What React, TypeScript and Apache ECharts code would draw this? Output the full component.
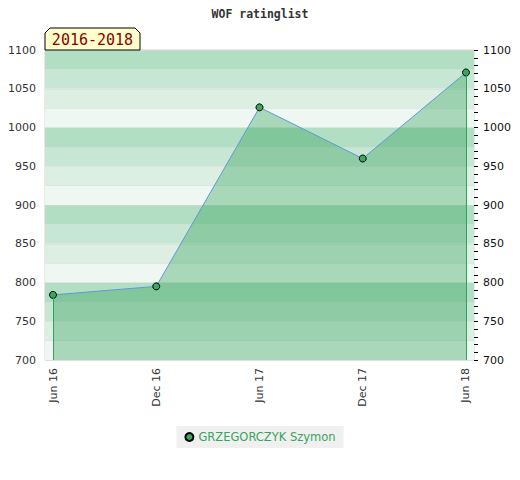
import React, { useEffect, useRef } from "react";
import * as echarts from "echarts";

const categories = ["Jun 16", "Dec 16", "Jun 17", "Dec 17", "Jun 18"];
const ratings = [784, 795, 1026, 960, 1071];
const seriesName = "GRZEGORCZYK Szymon";
const periodLabel = "2016-2018";
const titleText = "WOF ratinglist";
const yMin = 700;
const yMax = 1100;

export default function App() {
  const ref = useRef<HTMLDivElement>(null);
  useEffect(() => {
    document.body.style.margin = "0";
    if (!ref.current) return;
    const chart = echarts.init(ref.current, undefined, { renderer: "svg" });
    const data = ratings.map((v, i) => [i, v]);
    const last = ratings.length - 1;
    const labelFmt = (v: number) => (v % 50 === 0 ? String(v) : "");
    chart.setOption({
      animation: false,
      backgroundColor: "#ffffff",
      title: {
        text: titleText,
        left: "center",
        top: 3,
        textStyle: {
          fontFamily: "DejaVu Sans Mono",
          fontSize: 11.5,
          fontWeight: "bold",
          color: "#333",
        },
      },
      legend: {
        top: 426,
        left: "center",
        backgroundColor: "#f0f0f0",
        padding: [5, 8, 5, 8],
        itemWidth: 8,
        itemHeight: 8,
        itemGap: 8,
        textStyle: { color: "#3aa35f", fontFamily: "DejaVu Sans", fontSize: 11.5 },
        data: [{ name: seriesName, icon: "circle" }],
      },
      grid: {
        left: 45,
        right: 46,
        top: 50,
        bottom: 120,
        show: true,
        borderColor: "#d4d4d4",
        borderWidth: 1,
        backgroundColor: "transparent",
      },
      xAxis: {
        type: "value",
        min: -0.0775,
        max: last + 0.0775,
        axisLine: { show: false },
        axisTick: { show: false },
        splitLine: { show: false },
        axisLabel: {
          customValues: categories.map((_, i) => i),
          formatter: (v: number) => categories[Math.round(v)] ?? "",
          rotate: 90,
          margin: 8,
          color: "#333",
          fontFamily: "DejaVu Sans",
          fontSize: 11,
        },
      },
      yAxis: [
        {
          type: "value",
          min: yMin,
          max: yMax,
          interval: 25,
          position: "left",
          axisLine: { show: false },
          axisTick: { show: false },
          splitLine: {
            show: true,
            lineStyle: { color: "rgba(215,215,215,0.5)", width: 1 },
          },
          splitArea: {
            show: true,
            areaStyle: { color: ["#eff7f2", "#ddefe3", "#c8e6d4", "#b2dec3"] },
          },
          axisLabel: {
            formatter: labelFmt,
            color: "#333",
            fontFamily: "DejaVu Sans",
            fontSize: 11,
            margin: 9,
          },
        },
        {
          type: "value",
          min: yMin,
          max: yMax,
          interval: 10,
          position: "right",
          axisLine: { show: false },
          axisTick: {
            show: true,
            length: 4,
            lineStyle: { color: "#000", width: 1 },
          },
          splitLine: { show: false },
          splitArea: { show: false },
          axisLabel: {
            formatter: labelFmt,
            color: "#111",
            fontFamily: "DejaVu Sans",
            fontSize: 11,
            margin: 9,
          },
        },
      ],
      graphic: [
        {
          type: "polygon",
          shape: {
            points: [
              [45, 50],
              [45, 33],
              [50, 28],
              [135, 28],
              [140, 33],
              [140, 50],
            ],
          },
          style: { fill: "#ffffcc", stroke: "#000", lineWidth: 1 },
          z: 100,
        },
        {
          type: "text",
          x: 92.5,
          y: 40,
          style: {
            text: periodLabel,
            fill: "#8b0000",
            font: "15px 'DejaVu Sans Mono'",
            align: "center",
            verticalAlign: "middle",
          },
          z: 101,
        },
      ],
      series: [
        {
          name: seriesName,
          type: "line",
          data,
          symbol: "circle",
          symbolSize: 7,
          itemStyle: { color: "#3aa860", borderColor: "#000", borderWidth: 1 },
          lineStyle: { color: "#5b9bd5", width: 1 },
          areaStyle: { color: "rgba(45,160,85,0.52)", origin: "start" },
          z: 3,
          markLine: {
            silent: true,
            symbol: "none",
            label: { show: false },
            lineStyle: { color: "#2ea35a", width: 1, type: "solid", opacity: 1 },
            emphasis: { disabled: true },
            data: [
              [{ coord: [0, ratings[0]] }, { coord: [0, yMin] }],
              [{ coord: [last, ratings[last]] }, { coord: [last, yMin] }],
            ],
          },
        },
      ],
    });
    return () => chart.dispose();
  }, []);
  return <div ref={ref} style={{ width: 520, height: 480 }} />;
}
